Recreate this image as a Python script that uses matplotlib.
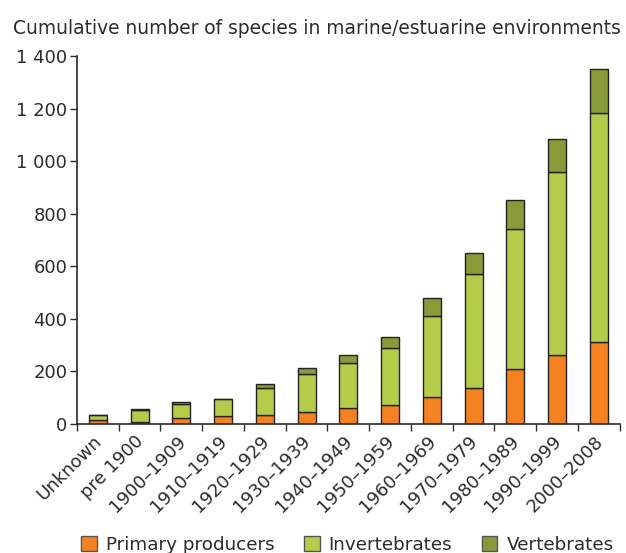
import matplotlib
matplotlib.use("Agg")
import matplotlib.pyplot as plt
from matplotlib.patches import Patch
from matplotlib.transforms import ScaledTranslation

categories = ["Unknown", "pre 1900", "1900\u20131909", "1910\u20131919", "1920\u20131929",
              "1930\u20131939", "1940\u20131949", "1950\u20131959", "1960\u20131969",
              "1970\u20131979", "1980\u20131989", "1990\u20131999", "2000\u20132008"]
primary = [16, 8, 22, 29, 34, 44, 61, 71, 104, 137, 208, 261, 311]
invertebrates = [19, 46, 53, 65, 102, 146, 172, 217, 308, 432, 534, 699, 871]
vertebrates = [0, 2, 7, 0, 17, 22, 28, 44, 66, 82, 109, 123, 167]
yticks = [0, 200, 400, 600, 800, 1000, 1200, 1400]
ytick_labels = ["0", "200", "400", "600", "800", "1 000", "1 200", "1 400"]

c_prim = "#F58220"
c_inv = "#B5CC4A"
c_vert = "#889B38"
txt = "#2b2b2b"

fig = plt.figure(figsize=(6.26, 5.53), dpi=100)
ax = fig.add_axes([0.123, 0.2333, 0.867, 0.6654])

x = list(range(len(categories)))
w = 0.43
bottom2 = [p + i for p, i in zip(primary, invertebrates)]
kw = dict(width=w, edgecolor="#222222", linewidth=1.0)
ax.bar(x, primary, color=c_prim, **kw)
ax.bar(x, invertebrates, bottom=primary, color=c_inv, **kw)
ax.bar(x, vertebrates, bottom=bottom2, color=c_vert, **kw)

ax.set_xlim(-0.5, len(categories) - 0.5)
ax.set_ylim(0, 1400)
ax.set_yticks(yticks)
ax.set_yticklabels(ytick_labels)
ax.set_xticks([i - 0.5 for i in range(len(categories) + 1)], minor=False)
ax.set_xticklabels([])
ax.set_xticks(x, minor=True)
ax.set_xticklabels(categories, minor=True, rotation=45, ha="right",
                   rotation_mode="anchor")
ax.tick_params(axis="x", which="minor", length=0, pad=6, labelsize=13, labelcolor=txt)
ax.tick_params(axis="x", which="major", length=5, width=1, color=txt, direction="out")
ax.tick_params(axis="y", length=5, width=1, color=txt, labelsize=13, labelcolor=txt, pad=2)
for lab in ax.get_xticklabels(minor=True):
    lab.set_transform(lab.get_transform() + ScaledTranslation(-0.05, 0, fig.dpi_scale_trans))

for s in ["top", "right"]:
    ax.spines[s].set_visible(False)
for s in ["left", "bottom"]:
    ax.spines[s].set_color(txt)
    ax.spines[s].set_linewidth(1.2)

fig.text(0.021, 0.949, "Cumulative number of species in marine/estuarine environments",
         fontsize=13.4, color=txt, va="center", ha="left")

handles = [Patch(facecolor=c_prim, edgecolor="#555555", label="Primary producers"),
           Patch(facecolor=c_inv, edgecolor="#555555", label="Invertebrates"),
           Patch(facecolor=c_vert, edgecolor="#555555", label="Vertebrates")]
fig.legend(handles=handles, loc="center", bbox_to_anchor=(0.555, 0.015), ncol=3,
           frameon=False, fontsize=13.2, handlelength=0.85, handleheight=0.85,
           handletextpad=0.5, columnspacing=1.6, labelcolor=txt)

fig.savefig("out.png", dpi=100)
